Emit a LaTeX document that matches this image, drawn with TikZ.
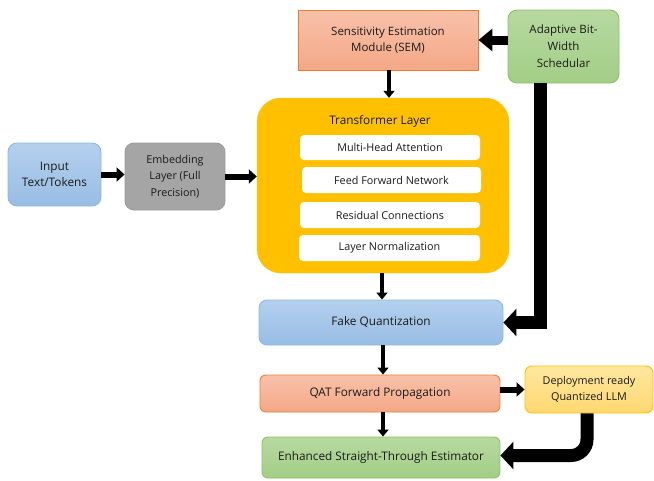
\documentclass[tikz,border=0pt]{standalone}
\usepackage{fontspec}
\setmainfont{Open Sans}
\usetikzlibrary{arrows.meta}
\definecolor{orB}{HTML}{ED7D31}
\definecolor{orT}{HTML}{F8C1AA}
\definecolor{orD}{HTML}{F4A886}
\definecolor{blB}{HTML}{8FB8E2}
\definecolor{blT}{HTML}{B4D0EE}
\definecolor{blD}{HTML}{98BDE4}
\definecolor{grB}{HTML}{8CC168}
\definecolor{grT}{HTML}{B6D9A0}
\definecolor{grD}{HTML}{A3CE86}
\definecolor{gyF}{HTML}{A5A5A5}
\definecolor{gyB}{HTML}{9C9C9C}
\definecolor{yeT}{HTML}{FFE7A0}
\definecolor{yeD}{HTML}{FFD870}
\definecolor{yeB}{HTML}{FFC000}
\definecolor{tlF}{HTML}{FFC000}
\definecolor{txt}{HTML}{1A1A1A}
\tikzset{
  box/.style={draw, line width=0.9pt, align=center, text=txt, inner sep=1pt,
    font=\fontsize{11.8}{15.5}\selectfont},
  orbox/.style={box, draw=orB, top color=orT, bottom color=orD},
  blbox/.style={box, draw=blB, top color=blT, bottom color=blD},
  grbox/.style={box, draw=grB, top color=grT, bottom color=grD},
  gybox/.style={box, draw=gyB, fill=gyF},
  yebox/.style={box, draw=yeB, top color=yeT, bottom color=yeD},
  inner/.style={fill=white, rounded corners=4pt, align=center, text=txt,
    font=\fontsize{10.8}{13}\selectfont, minimum width=180pt, minimum height=25pt, inner sep=0pt},
  arS/.style={line width=3.5pt, -{Triangle[length=7pt,width=11pt]}},
  arM/.style={line width=6pt, -{Triangle[length=8pt,width=14pt]}},
  arL/.style={line width=9pt, -{Triangle[length=14pt,width=22pt]}},
  arXL/.style={line width=13pt, -{Triangle[length=13pt,width=27pt]}},
}
\begin{document}
\begin{tikzpicture}[x=1pt,y=-1pt]
\useasboundingbox (0,0) rectangle (654,480);
% nodes
\node[orbox, minimum width=180pt, minimum height=60pt, font=\fontsize{11.5}{16}\selectfont] (sem) at (388,40) {Sensitivity Estimation\\Module (SEM)};
\node[grbox, rounded corners=9pt, minimum width=111pt, minimum height=73pt, font=\fontsize{11.5}{17}\selectfont] (abw) at (563.5,46.5) {Adaptive Bit-\\Width\\Schedular};
\node[draw=tlF, fill=tlF, rounded corners=24pt, minimum width=252pt, minimum height=175pt] (tl) at (383,185.5) {};
\node[text=txt, font=\fontsize{11.8}{14}\selectfont] (tlt) at (380,121) {Transformer Layer};
\node[inner] (mha) at (390,147.5) {Multi-Head Attention};
\node[inner, minimum width=179pt, minimum height=26pt] (ffn) at (391.5,180) {Feed Forward Network};
\node[inner, minimum height=26pt] (rc) at (390,215) {Residual Connections};
\node[inner, minimum width=181pt, minimum height=26pt] (ln) at (389.5,248) {Layer Normalization};
\node[blbox, rounded corners=9pt, minimum width=93pt, minimum height=63pt] (inp) at (54.5,174.5) {Input\\Text/Tokens};
\node[gybox, rounded corners=9pt, minimum width=100pt, minimum height=67pt, font=\fontsize{10.8}{16.5}\selectfont] (emb) at (175,176.5) {Embedding\\Layer (Full\\Precision)};
\node[blbox, rounded corners=8pt, minimum width=244pt, minimum height=45pt] (fq) at (381,322.5) {Fake Quantization};
\node[orbox, rounded corners=6pt, minimum width=240pt, minimum height=37pt] (qat) at (380,393.5) {QAT Forward Propagation};
\node[yebox, rounded corners=7pt, minimum width=128pt, minimum height=47pt, font=\fontsize{10.8}{16}\selectfont] (dep) at (589,389.5) {Deployment ready\\Quantized LLM};
\node[grbox, rounded corners=6pt, minimum width=238pt, minimum height=41pt] (est) at (381,457.5) {Enhanced Straight-Through Estimator};
% connectors
\draw[arL] (abw.west |- sem.east) -- (sem.east);
\draw[arS] ([xshift=1pt]sem.south) -- ([xshift=1pt]sem.south |- tl.north);
\draw[arM] (inp.east) -- (inp.east -| emb.west);
\draw[arM] (emb.east) -- (emb.east -| tl.west);
\draw[arS] ([xshift=-1pt]tl.south) -- ([xshift=-1pt]tl.south |- fq.north);
\draw[arXL, line join=miter] ([xshift=-23pt]abw.south) |- (fq.east);
\draw[arS] ([xshift=2pt]fq.south) -- ([xshift=2pt]fq.south |- qat.north);
\draw[arM] (qat.east |- dep.west) -- (dep.west);
\draw[arS] ([xshift=3pt]qat.south) -- ([xshift=3pt]qat.south |- est.north);
\draw[arXL, rounded corners=16pt] ([xshift=-2pt]dep.south) |- ([yshift=2pt]est.east);
\end{tikzpicture}
\end{document}
